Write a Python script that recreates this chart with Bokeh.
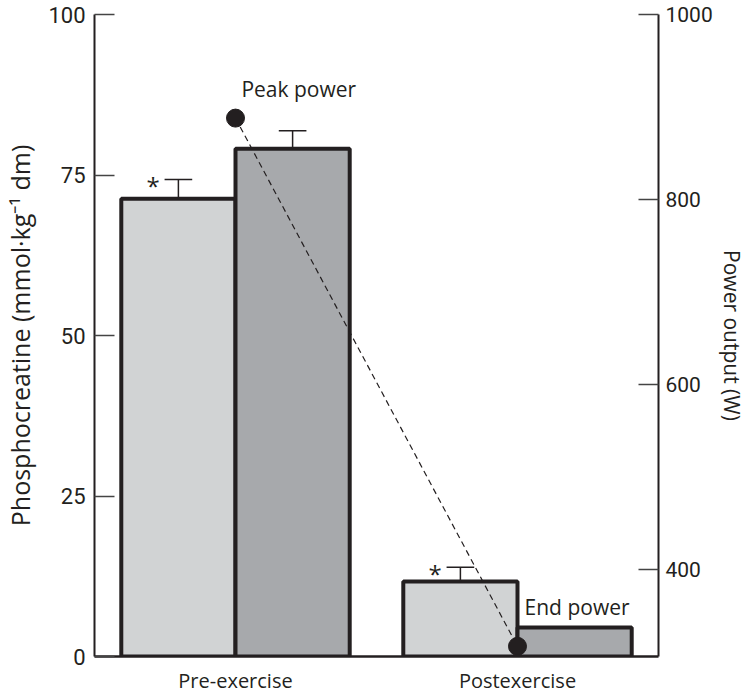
from bokeh.plotting import figure
from bokeh.models import Range1d, LinearAxis, FixedTicker
from bokeh.embed import file_html
from bokeh.resources import INLINE

categories = ["Pre-exercise", "Postexercise"]
pcr_a = [71.3, 11.7]        # light bars
pcr_a_err = [74.3, 13.9]    # error bar tops
pcr_b = [79.1, 4.5]         # dark bars
pcr_b_err = [81.9, None]
power = [888, 317]          # peak power, end power (W)
power_labels = ["Peak power", "End power"]

FONT = "Open Sans"
NUM_FONT = "Roboto"
INK = "#231f20"

p = figure(frame_width=564, frame_height=642, output_backend="svg", toolbar_location=None,
           x_range=Range1d(0, 2), y_range=Range1d(0, 100),
           min_border_left=84, min_border_right=10, min_border_top=14, min_border_bottom=30)
p.extra_y_ranges = {"power": Range1d(306, 1000)}
p.grid.visible = False
p.outline_line_color = None
p.background_fill_color = "white"

centers = [i + 0.5 for i in range(len(categories))]
bw = 0.405
p.quad(left=[c - bw for c in centers], right=centers, bottom=0, top=pcr_a,
       fill_color="#d1d3d4", line_color=INK, line_width=4)
p.quad(left=centers, right=[c + bw for c in centers], bottom=0, top=pcr_b,
       fill_color="#a7a9ac", line_color=INK, line_width=4)

# error bars
ex, ey0, ey1 = [], [], []
for c, v, e in zip(centers, pcr_a, pcr_a_err):
    if e is not None:
        ex.append(c - bw / 2); ey0.append(v); ey1.append(e)
for c, v, e in zip(centers, pcr_b, pcr_b_err):
    if e is not None:
        ex.append(c + bw / 2); ey0.append(v); ey1.append(e)
p.segment(x0=ex, y0=ey0, x1=ex, y1=ey1, line_color=INK, line_width=1.5)
cap = 0.049
p.segment(x0=[x - cap for x in ex], y0=ey1, x1=[x + cap for x in ex], y1=ey1,
          line_color=INK, line_width=1.5)

# asterisks
p.text(x=[c - bw + 0.113 for c in centers], y=pcr_a_err, text=["*", "*"],
       text_font_size="24px", text_align="center", text_baseline="middle",
       y_offset=6, text_color=INK, text_font={"value": FONT})

# power line
p.line(x=centers, y=power, y_range_name="power", line_dash="6 4",
       line_color=INK, line_width=1.2)
p.scatter(x=centers, y=power, y_range_name="power", size=18, color=INK)
p.text(x=[centers[0] + 0.021, centers[1] + 0.025], y=[power[0] + 32, power[1] + 42],
       text=power_labels, y_range_name="power", text_font_size="21px",
       text_color=INK, text_align="left", text_baseline="middle",
       text_font={"value": FONT})

# axes
ax_x = p.xaxis[0]
ax_x.ticker = FixedTicker(ticks=centers)
ax_x.major_label_overrides = {c: n for c, n in zip(centers, categories)}
ax_x.major_tick_in = 0
ax_x.major_tick_out = 0
ax_x.minor_tick_line_color = None
ax_x.axis_line_width = 2.5
ax_x.axis_line_color = INK
ax_x.major_label_text_font = FONT
ax_x.major_label_text_font_size = "20px"
ax_x.major_label_text_color = INK
ax_x.major_label_standoff = 10

ay = p.yaxis[0]
ay.ticker = FixedTicker(ticks=[0, 25, 50, 75, 100])
ay.major_tick_in = 20
ay.major_tick_out = 0
ay.minor_tick_line_color = None
ay.axis_line_width = 2
ay.axis_line_color = INK
ay.major_tick_line_color = "#444444"
ay.major_tick_line_width = 1.5
ay.major_label_text_font = NUM_FONT
ay.major_label_text_font_size = "22px"
ay.major_label_text_color = INK
ay.major_label_standoff = 9
ay.axis_label = "Phosphocreatine (mmol·kg⁻¹ dm)"
ay.axis_label_text_font = FONT
ay.axis_label_text_font_style = "normal"
ay.axis_label_text_font_size = "25px"
ay.axis_label_text_color = INK
ay.axis_label_standoff = 8

ar = LinearAxis(y_range_name="power", ticker=FixedTicker(ticks=[400, 600, 800, 1000]))
ar.major_tick_in = 20
ar.major_tick_out = 0
ar.minor_tick_line_color = None
ar.axis_line_width = 2
ar.axis_line_color = INK
ar.major_tick_line_color = "#444444"
ar.major_tick_line_width = 1.5
ar.major_label_text_font = NUM_FONT
ar.major_label_text_font_size = "21px"
ar.major_label_text_color = INK
ar.major_label_standoff = 7
ar.axis_label = "Power output (W)"
ar.axis_label_text_font = FONT
ar.axis_label_text_font_style = "normal"
ar.axis_label_text_font_size = "21px"
ar.axis_label_text_color = INK
ar.axis_label_standoff = 2
p.add_layout(ar, "right")

open("out.html", "w").write(file_html(p, INLINE))
